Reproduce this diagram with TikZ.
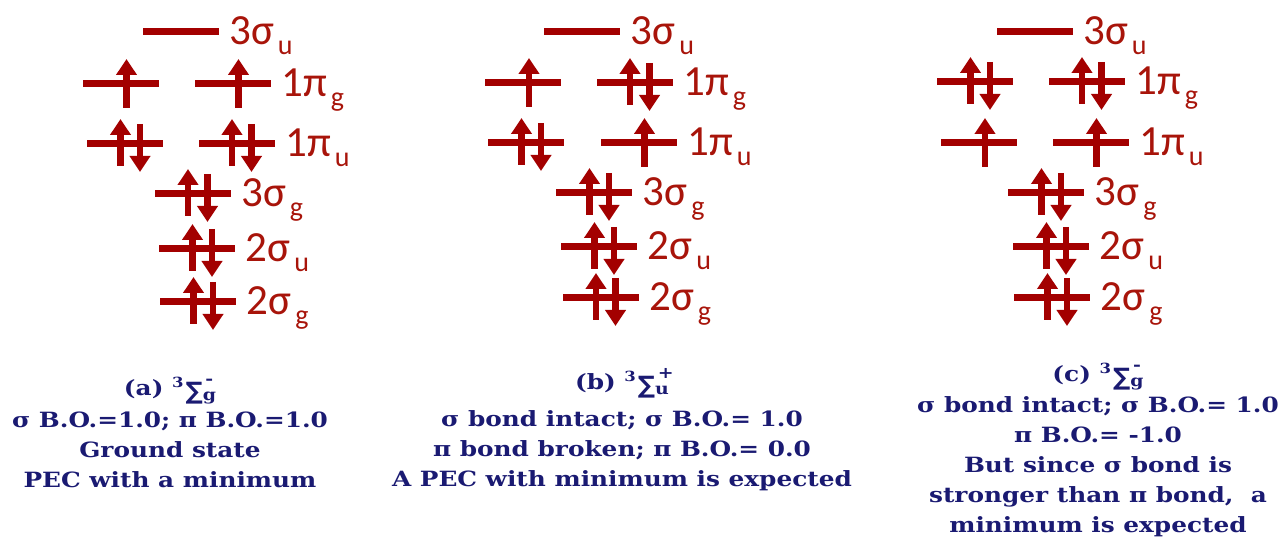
\documentclass[tikz,border=0pt]{standalone}
\usepackage{fontspec}
\setmainfont{Carlito}
\newfontfamily\capfont[FakeStretch=1.18]{DejaVu Serif}
\newfontfamily\sumfont{DejaVu Sans}
\usepackage{xcolor}
\usepackage{tikz}
\usetikzlibrary{positioning, arrows.meta}
\definecolor{MORed}{HTML}{A30000}
\definecolor{OrbText}{HTML}{A8140A}
\definecolor{CapNavy}{HTML}{1A1A72}
\newcommand{\orbsub}[1]{\kern2pt\raisebox{-5pt}{\fontsize{14pt}{14pt}\selectfont #1}}
\newcommand{\termsym}[2]{\raisebox{4pt}{\fontsize{7pt}{7pt}\selectfont 3}\kern1pt
  \raisebox{-2pt}{\sumfont\bfseries\fontsize{12pt}{12pt}\selectfont ∑}%
  \makebox[0pt][l]{\raisebox{5.5pt}{\fontsize{8pt}{8pt}\selectfont\,#2}}%
  \raisebox{-2.5pt}{\fontsize{8pt}{8pt}\selectfont #1}}

\begin{document}
\begin{tikzpicture}[x=0.5pt, y=-0.5pt,
    level/.style={fill=MORed, minimum width=38pt, minimum height=3.5pt, inner sep=0pt},
    spin/.style={MORed, line width=3.3pt, -{Triangle[width=10pt, length=8pt]}},
    orb/.style={text=OrbText, font=\fontsize{21.5pt}{22pt}\selectfont, inner sep=0pt, anchor=base west},
    captext/.style={text=CapNavy, font=\capfont\bfseries\fontsize{10.5pt}{15pt}\selectfont, inner sep=0pt, anchor=base}]
    \useasboundingbox (0,0) rectangle (1281,544);
    % MO levels: name / centre x / y / electrons
    \foreach \n/\x/\y/\e in {a1/180.5/32/0, a2/120.5/84/1, a3/232.5/84/1, a4/125/144/2, a5/236.5/144/2,
                            a6/192.5/194/2, a7/197/249/2, a8/198/302/2,
                            b1/582/32/0, b2/523/83/1, b3/634.5/83/2, b4/526/143/2, b5/638.5/143/1,
                            b6/594/193/2, b7/599/247/2, b8/600.5/298/2,
                            c1/1034.5/32/0, c2/975/82/2, c3/1086.5/82/2, c4/979/143/1, c5/1090.5/143/1,
                            c6/1046/193/2, c7/1051/247/2, c8/1052/298/2} {
      \node[level] (\n) at (\x,\y) {};
      \ifnum\e=1 \draw[spin] (\x+6,\y+24) -- (\x+6,\y-25); \fi
      \ifnum\e=2
        \draw[spin] (\x-4.5,\y+22) -- (\x-4.5,\y-25);
        \draw[spin] (\x+15,\y-20) -- (\x+15,\y+28);
      \fi
    }
    % level labels
    \foreach \p in {a,b,c} {
      \foreach \k/\s/\t in {1/3σ/u, 3/1π/g, 5/1π/u, 6/3σ/g, 7/2σ/u, 8/2σ/g}
        \node[orb] (\p\k t) at ([xshift=5pt, yshift=-6.5pt]\p\k.east) {\s\orbsub{\t}};
    }
    % captions
    \node[captext] (capa) at (170,396) {(a) \termsym{g}{-}};
    \foreach \t [count=\i] in {{σ B.O.=1.0; π B.O.=1.0}, Ground state, PEC with a minimum}
      \node[captext] (capa\i) at (170,428+30*\i-30) {\t};
    \node[captext] (capb) at (622,390) {(b) \termsym{u}{+}};
    \foreach \t [count=\i] in {{σ bond intact; σ B.O.= 1.0}, {π bond broken; π B.O.= 0.0}, A PEC with minimum is expected}
      \node[captext] (capb\i) at (622,427+30*\i-30) {\t};
    \node[captext] (capc) at (1098,382) {(c) \termsym{g}{-}};
    \foreach \t [count=\i] in {{σ bond intact; σ B.O.= 1.0}, π B.O.= -1.0, But since σ bond is,
                              {stronger than π bond,~ a}, minimum is expected}
      \node[captext] (capc\i) at (1098,413+30*\i-30) {\t};
  \end{tikzpicture}
\end{document}
